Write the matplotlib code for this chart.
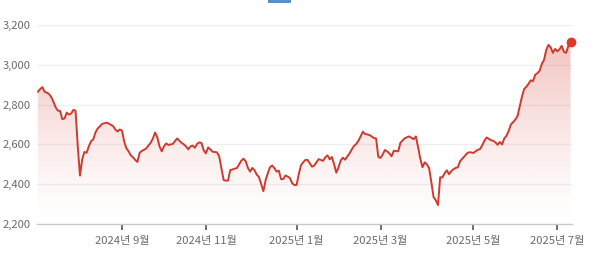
import matplotlib
matplotlib.use("Agg")
import matplotlib.pyplot as plt
import numpy as np
from matplotlib.patches import Polygon, Rectangle

plt.rcParams['font.family'] = ['Noto Sans CJK KR', 'DejaVu Sans']

# KOSPI-like daily closes, one value per trading day
values = [
    2865, 2878, 2888, 2864, 2860, 2853, 2838, 2814, 2786, 2770,
    2768, 2727, 2730, 2760, 2750, 2755, 2773, 2770, 2590, 2443,
    2525, 2562, 2558, 2590, 2616, 2625, 2660, 2680, 2690, 2703,
    2706, 2709, 2705, 2698, 2692, 2675, 2665, 2675, 2670, 2615,
    2580, 2565, 2545, 2535, 2522, 2512, 2558, 2567, 2573, 2580,
    2595, 2608, 2630, 2660, 2635, 2590, 2565, 2590, 2605, 2597,
    2600, 2602, 2617, 2630, 2618, 2608, 2600, 2590, 2575, 2590,
    2594, 2583, 2603, 2610, 2607, 2570, 2555, 2585, 2575, 2563,
    2562, 2560, 2540, 2480, 2421, 2418, 2418, 2471, 2474, 2478,
    2481, 2500, 2518, 2528, 2515, 2482, 2463, 2482, 2470, 2448,
    2436, 2400, 2365, 2420, 2455, 2486, 2494, 2480, 2463, 2468,
    2425, 2426, 2444, 2438, 2431, 2405, 2396, 2396, 2450, 2495,
    2510, 2522, 2522, 2505, 2488, 2494, 2510, 2526, 2522, 2517,
    2535, 2545, 2525, 2537, 2500, 2458, 2485, 2520, 2533, 2523,
    2540, 2555, 2575, 2592, 2602, 2618, 2640, 2664, 2652, 2650,
    2647, 2640, 2632, 2630, 2537, 2532, 2550, 2572, 2565, 2555,
    2540, 2568, 2567, 2565, 2608, 2620, 2631, 2636, 2640, 2633,
    2626, 2640, 2587, 2528, 2485, 2510, 2500, 2480, 2410, 2335,
    2320, 2295, 2435, 2434, 2455, 2470, 2450, 2465, 2475, 2482,
    2485, 2515, 2528, 2540, 2554, 2560, 2560, 2557, 2565, 2573,
    2576, 2595, 2618, 2635, 2628, 2621, 2618, 2610, 2598, 2612,
    2600, 2630, 2643, 2668, 2700, 2712, 2725, 2742, 2790, 2840,
    2878, 2890, 2905, 2922, 2918, 2950, 2958, 2970, 3005, 3025,
    3075, 3100, 3088, 3060, 3080, 3068, 3078, 3095, 3065, 3060,
    3095, 3114,
]
tick_idx = [38, 76, 117, 155, 197, 235]   # first trading day of each labelled month
tick_labels = ['2024년 9월', '2024년 11월', '2025년 1월', '2025년 3월', '2025년 5월', '2025년 7월']
y_ticks = [2200, 2400, 2600, 2800, 3000, 3200]

RED = '#cf3a2f'

fig = plt.figure(figsize=(6.0, 2.57), dpi=100)
ax = fig.add_axes([37/600, 1-224/257, (572-37)/600, (224-25)/257])

x = np.arange(len(values))
y = np.array(values, dtype=float)
ymin, ymax = 2200, 3200
xmin, xmax = -0.45, len(values) - 1 + 0.65
ax.set_xlim(xmin, xmax)
ax.set_ylim(ymin, ymax)

# gradient fill under the line
grad = np.linspace(0, 1, 256)
rgba = np.zeros((256, 1, 4))
rgba[..., 0] = 0xd2/255
rgba[..., 1] = 0x3b/255
rgba[..., 2] = 0x30/255
rgba[..., 3] = (grad ** 1.3 * 0.30).reshape(-1, 1)
top = y.max()
im = ax.imshow(rgba, aspect='auto', extent=[x[0], x[-1], ymin, top],
               origin='lower', zorder=1, interpolation='bilinear')
poly = Polygon(np.column_stack([np.r_[x[0], x, x[-1]], np.r_[ymin, y, ymin]]),
               closed=True, facecolor='none', edgecolor='none')
ax.add_patch(poly)
im.set_clip_path(poly)

ax.plot(x, y, color=RED, lw=1.4, zorder=3, solid_joinstyle='round')
ax.plot([x[-1]], [y[-1]], 'o', color='#e0392b', ms=6, zorder=4, clip_on=False)

for v in y_ticks[1:]:
    ax.axhline(v, color='#efefef', lw=0.9, zorder=0)

for s in ['top', 'right', 'left']:
    ax.spines[s].set_visible(False)
ax.spines['bottom'].set_color('#c8c8c8')
ax.spines['bottom'].set_linewidth(1.0)

ax.set_yticks(y_ticks)
ax.set_yticklabels([f'{v:,}' for v in y_ticks], ha='left')
ax.tick_params(axis='y', length=0, pad=24.5, labelsize=8.1, labelcolor='#6a6a6a')
ax.set_xticks(tick_idx)
ax.set_xticklabels(tick_labels)
ax.tick_params(axis='x', length=4, width=1.2, color='#555555', pad=4.5,
               labelsize=8.1, labelcolor='#6a6a6a', direction='out')

# small blue tab at the top edge
fig.patches.append(Rectangle((268/600, 1-3/257), 23/600, 3/257, transform=fig.transFigure,
                             facecolor='#5b8fc7', edgecolor='none'))

fig.savefig('out.png', dpi=100, facecolor='white')
